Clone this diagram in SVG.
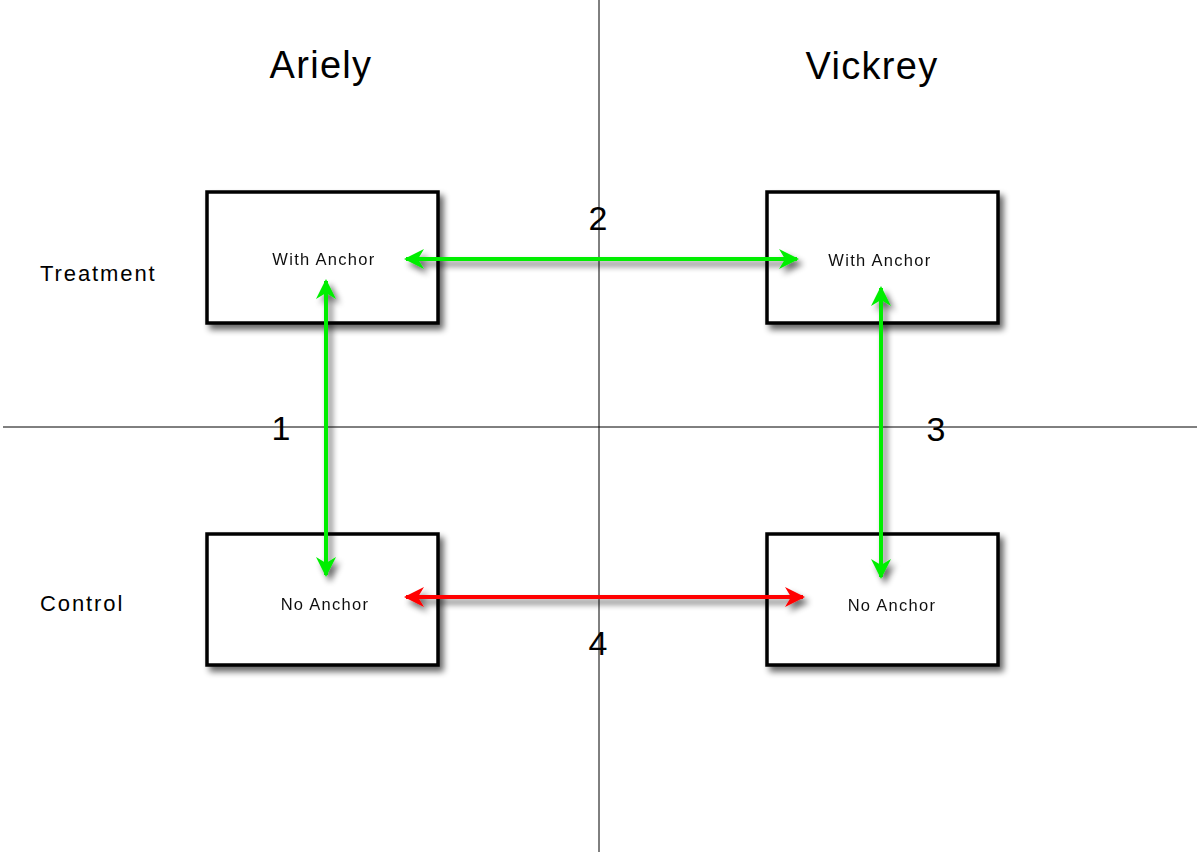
<svg xmlns="http://www.w3.org/2000/svg" width="1197" height="854" viewBox="0 0 1197 854">
<style>
.box{fill:#fff;stroke:#000;stroke-width:3.5}
.big{font-family:"Liberation Sans",Arial,sans-serif;font-size:38px;fill:#000;text-anchor:middle;letter-spacing:1.3px}
.row{font-family:"Liberation Sans",Arial,sans-serif;font-size:22px;fill:#000;letter-spacing:1.9px}
.num{font-family:"Liberation Sans",Arial,sans-serif;font-size:34px;fill:#000;text-anchor:middle}
.in{font-family:"Liberation Sans",Arial,sans-serif;font-size:16.5px;fill:#111;text-anchor:middle;letter-spacing:1.3px}
.axis{stroke:#000;stroke-width:1}
.g{stroke:#00ee00;stroke-width:4;fill:none}
.r{stroke:#ff0000;stroke-width:4;fill:none}
</style>
<defs>
<filter id="sh" x="-20%" y="-20%" width="150%" height="150%">
<feGaussianBlur in="SourceAlpha" stdDeviation="3"/>
<feOffset dx="4" dy="5" result="b"/>
<feComponentTransfer><feFuncA type="linear" slope="0.6"/></feComponentTransfer>
<feMerge><feMergeNode/><feMergeNode in="SourceGraphic"/></feMerge>
</filter>
<marker id="hg" viewBox="0 0 20 20" refX="18" refY="10" markerWidth="20" markerHeight="20" markerUnits="userSpaceOnUse" orient="auto-start-reverse">
<path d="M20,10 L0,0 L6,10 L0,20 Z" fill="#00ee00"/>
</marker>
<marker id="hr" viewBox="0 0 20 20" refX="18" refY="10" markerWidth="20" markerHeight="20" markerUnits="userSpaceOnUse" orient="auto-start-reverse">
<path d="M20,10 L0,0 L6,10 L0,20 Z" fill="#ff0000"/>
</marker>
</defs>
<rect width="1197" height="854" fill="#fff"/>
<g id="axes">
<line class="axis" x1="599" y1="0" x2="599" y2="852"/>
<line class="axis" x1="3" y1="427" x2="1197" y2="427"/>
</g>
<g id="headers">
<text class="big" x="321" y="78">Ariely</text>
<text class="big" x="872" y="79">Vickrey</text>
<text class="row" x="40" y="281">Treatment</text>
<text class="row" x="40" y="611">Control</text>
</g>
<g id="n-ariely-treatment" filter="url(#sh)">
<rect class="box" x="207" y="192" width="231" height="131"/>
<text class="in" x="324" y="265">With Anchor</text>
</g>
<g id="n-vickrey-treatment" filter="url(#sh)">
<rect class="box" x="767" y="192" width="231" height="131"/>
<text class="in" x="880" y="266">With Anchor</text>
</g>
<g id="n-ariely-control" filter="url(#sh)">
<rect class="box" x="207" y="534" width="231" height="131"/>
<text class="in" x="325" y="610">No Anchor</text>
</g>
<g id="n-vickrey-control" filter="url(#sh)">
<rect class="box" x="767" y="534" width="231" height="131"/>
<text class="in" x="892" y="611">No Anchor</text>
</g>
<g id="connectors" filter="url(#sh)">
<line class="g" x1="406" y1="259" x2="797" y2="259" marker-start="url(#hg)" marker-end="url(#hg)"/>
<line class="g" x1="326" y1="281" x2="326" y2="575" marker-start="url(#hg)" marker-end="url(#hg)"/>
<line class="g" x1="881" y1="288" x2="881" y2="577" marker-start="url(#hg)" marker-end="url(#hg)"/>
<line class="r" x1="406" y1="597" x2="803" y2="597" marker-start="url(#hr)" marker-end="url(#hr)"/>
</g>
<g id="labels">
<text class="num" x="281" y="440">1</text>
<text class="num" x="598" y="230">2</text>
<text class="num" x="936" y="441">3</text>
<text class="num" x="598" y="655">4</text>
</g>
</svg>
